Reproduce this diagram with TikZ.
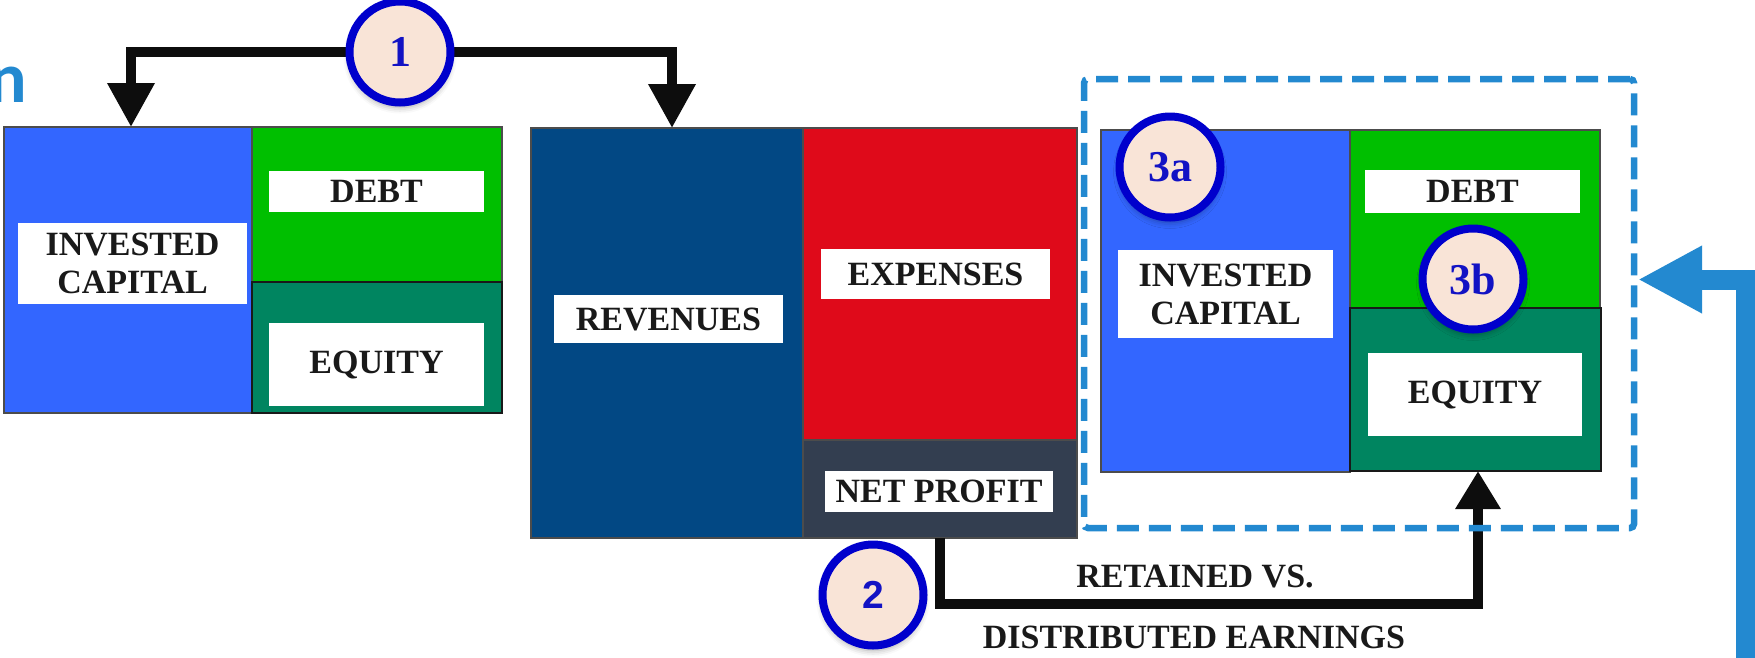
\documentclass[tikz,border=0pt]{standalone}
\usepackage{fontspec}
\setmainfont{Liberation Serif}
\newfontfamily\numsans{Liberation Sans}
\newfontfamily\titlesans{Carlito}
\usetikzlibrary{arrows.meta,shadows.blur,calc}

\definecolor{icblue}{HTML}{3366FF}
\definecolor{debtgreen}{HTML}{00BF00}
\definecolor{eqgreen}{HTML}{008560}
\definecolor{revnavy}{HTML}{024884}
\definecolor{expred}{HTML}{DF0A1A}
\definecolor{npslate}{HTML}{333E50}
\definecolor{dashblue}{HTML}{2389D0}
\definecolor{peach}{HTML}{F9E4D7}
\definecolor{ringblue}{HTML}{0000CC}
\definecolor{numblue}{HTML}{1212C4}

\begin{document}
\begin{tikzpicture}[x=1pt,y=-1pt]
\tikzset{
  blk/.style={draw=black!95, line width=10pt},
  panel/.style={draw=black!70, line width=1.2pt, inner sep=0pt, outer sep=0pt, anchor=north west},
  eqpanel/.style={panel, draw=black!90, line width=2pt, fill=eqgreen},
  tag/.style={fill=white, inner sep=0pt, text=black!90, align=center,
              font=\bfseries\fontsize{34}{38}\selectfont},
  caption/.style={inner sep=0pt, anchor=base, text=black!90,
              font=\bfseries\fontsize{34}{38}\selectfont},
  badge/.style={circle, draw=ringblue, line width=8pt, fill=peach, minimum size=101pt,
              inner sep=0pt, text=numblue, font=\bfseries\fontsize{44}{44}\selectfont,
              blur shadow={shadow xshift=0pt, shadow yshift=-5pt, shadow opacity=35,
                           shadow blur radius=6pt}},
}
\useasboundingbox (0,0) rectangle (1755,657);

% heading fragment at the left edge
\node[inner sep=0pt, anchor=base east, text=dashblue,
      font=\titlesans\bfseries\fontsize{72}{72}\selectfont] (ttl) at (27,102) {n};

% balance sheet (left)
\node[panel, fill=icblue, minimum width=248pt, minimum height=286pt] (ic1) at (4,127) {};
\node[panel, fill=debtgreen, minimum width=250pt, minimum height=155pt] (debt1) at (252,127) {};
\node[eqpanel, minimum width=250pt, minimum height=131pt] (eq1) at (252,282) {};
\node[tag, minimum width=229pt, minimum height=81pt] (ic1t) at (132.5,263.5) {INVESTED\\CAPITAL};
\node[tag, minimum width=215pt, minimum height=41pt] (debt1t) at (376.5,191.5) {DEBT};
\node[tag, minimum width=215pt, minimum height=83pt] (eq1t) at (376.5,364.5) {EQUITY};

% income statement (middle)
\node[panel, fill=revnavy, minimum width=272pt, minimum height=410pt] (rev) at (531,128) {};
\node[panel, fill=expred, minimum width=274pt, minimum height=312pt] (exp) at (803,128) {};
\node[panel, fill=npslate, minimum width=274pt, minimum height=98pt] (np) at (803,440) {};
\node[tag, minimum width=229pt, minimum height=48pt] (revt) at (668.5,319) {REVENUES};
\node[tag, minimum width=229pt, minimum height=50pt] (expt) at (935.5,274) {EXPENSES};
\node[tag, minimum width=228pt, minimum height=41pt] (npt) at (939,491.5) {NET PROFIT};

% balance sheet (right)
\node[panel, fill=icblue, minimum width=249pt, minimum height=342pt] (ic3) at (1101,130) {};
\node[panel, fill=debtgreen, minimum width=250pt, minimum height=178pt] (debt3) at (1350,130) {};
\node[eqpanel, minimum width=251pt, minimum height=163pt] (eq3) at (1350,308) {};
\node[tag, minimum width=215pt, minimum height=88pt] (ic3t) at (1225.5,294) {INVESTED\\CAPITAL};
\node[tag, minimum width=215pt, minimum height=43pt] (debt3t) at (1472.5,191.5) {DEBT};
\node[tag, minimum width=214pt, minimum height=83pt] (eq3t) at (1475,394.5) {EQUITY};

% capital raised flows into both statements
\coordinate (hub1) at (400,52);
\draw[blk, {Triangle[length=44pt,width=45pt]}-{Triangle[length=44pt,width=45pt]}]
  ([xshift=3pt]ic1.north) |- (hub1) -| ([xshift=5pt]rev.north);

% net profit retained into equity
\draw[blk, -{Triangle[length=38pt,width=43pt]}]
  (np.south) -- ++(0,66) -| ([xshift=2.5pt]eq3.south);

% frame around the next-period balance sheet
\node[draw=dashblue, line width=6.5pt, dash pattern=on 22pt off 10pt, rounded corners=4pt,
      minimum width=550pt, minimum height=449pt, inner sep=0pt, outer sep=0pt,
      anchor=north west] (grp) at (1084,79) {};

% feedback into the next period
\coordinate (feed) at (1746,670);
\draw[draw=dashblue, line width=20pt, -{Triangle[length=64pt,width=63pt]}]
  (feed) |- ([xshift=4pt,yshift=24pt]grp.east);

% step markers
\node[badge] (c1) at (hub1) {1};
\node[badge, font=\numsans\bfseries\fontsize{39}{39}\selectfont] (c2) at (873,595) {2};
\node[badge] (c3a) at (1170,167) {3a};
\node[badge] (c3b) at (1473,279) {3b};

% flow caption
\node[caption] (ret) at (1195,587) {RETAINED VS.};
\node[caption] (dist) at (1194,648) {DISTRIBUTED EARNINGS};
\end{tikzpicture}
\end{document}
